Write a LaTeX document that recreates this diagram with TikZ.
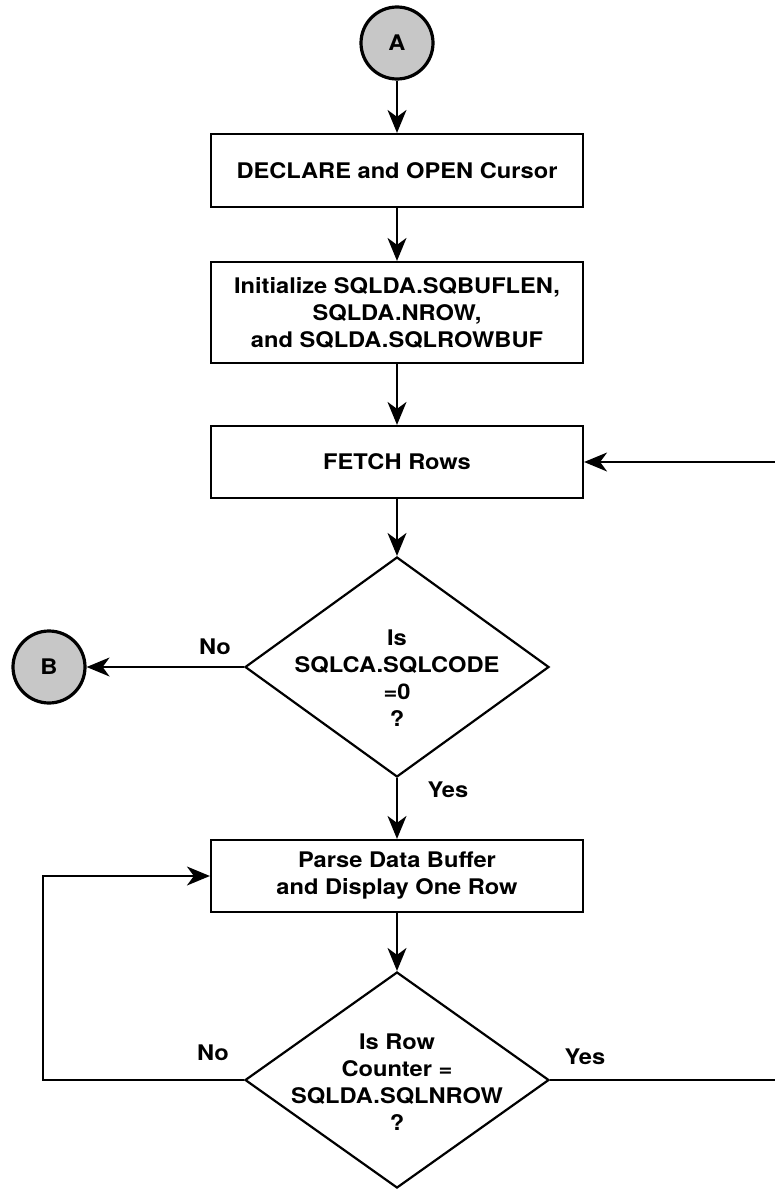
\documentclass[tikz,border=0pt]{standalone}
\usepackage{fontspec}
\setmainfont{TeX Gyre Heros}[FakeStretch=1.1]
\usetikzlibrary{shapes.geometric,arrows.meta}
\begin{document}
\begin{tikzpicture}[x=1pt,y=-1pt,
  txtfont/.style={font=\bfseries\fontsize{21.5}{27}\selectfont},
  box/.style={draw,line width=2.2pt,minimum width=372pt,inner sep=0pt,align=center,txtfont},
  circ/.style={circle,draw,line width=3.2pt,fill=black!22,minimum size=72pt,inner sep=0pt,txtfont},
  dia/.style={diamond,draw,line width=2.2pt,minimum width=304pt,inner sep=0pt},
  dtxt/.style={align=center,inner sep=0pt,txtfont},
  lbl/.style={inner sep=0pt,txtfont},
  link/.style={line width=1.8pt},
  conn/.style={link,-{Stealth[length=23pt,width=19pt,inset=7pt]}}
]
\useasboundingbox (0,0) rectangle (775,1191);

\node[circ] (A) at (397,43) {A};
\node[box,minimum height=73pt] (b1) at (397,170.5) {DECLARE and OPEN Cursor};
\node[box,minimum height=101pt] (b2) at (397,312.5) {Initialize SQLDA.SQBUFLEN,\\SQLDA.NROW,\\and SQLDA.SQLROWBUF};
\node[box,minimum height=72pt] (b3) at (397,462) {FETCH Rows};
\node[dia,minimum height=220pt] (d1) at (397,667) {};
\node[dtxt] (d1t) at (397,678) {Is\\SQLCA.SQLCODE\\=0\\?};
\node[circ] (B) at (49,667) {B};
\node[box,minimum height=72pt] (b4) at (397,876) {Parse Data Buffer\\and Display One Row};
\node[dia,minimum height=216pt] (d2) at (397,1080) {};
\node[dtxt] (d2t) at (397,1082) {Is Row\\Counter =\\SQLDA.SQLNROW\\?};

\node[lbl] (no1) at (215,647) {No};
\node[lbl] (yes1) at (448,790) {Yes};
\node[lbl] (no2) at (213,1053) {No};
\node[lbl] (yes2) at (585,1057) {Yes};

\coordinate (rtop) at (775,462);
\coordinate (rbot) at (775,1080);
\coordinate (loopL) at (43,1080);

\draw[conn] (A.south) -- (b1.north);
\draw[conn] (b1.south) -- (b2.north);
\draw[conn] (b2.south) -- (b3.north);
\draw[conn] (b3.south) -- (d1.north);
\draw[conn] (d1.west) -- (B.east);
\draw[conn] (d1.south) -- (b4.north);
\draw[conn] (b4.south) -- (d2.north);
\draw[conn] (d2.west) -- (loopL) |- (b4.west);
\draw[conn] (rtop) -- (b3.east);
\draw[link] (d2.east) -- (rbot);
\end{tikzpicture}
\end{document}
